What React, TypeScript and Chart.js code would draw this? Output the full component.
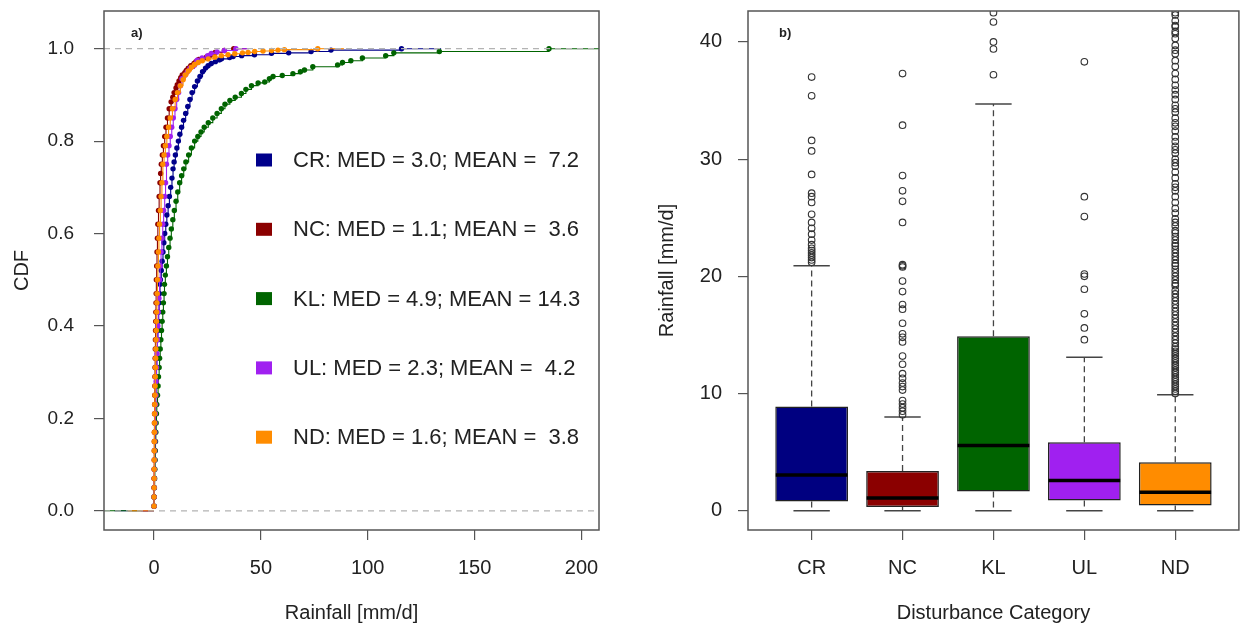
import React, { useEffect, useRef } from "react";
import { Chart, registerables } from "chart.js";

Chart.register(...registerables);

const FONT = "'Liberation Sans', Arial, Helvetica, sans-serif";
const TEXT = "#222222";
const AXIS = "#555555";

// ---------- Panel a) : empirical CDFs ----------
const seriesNames = ["CR", "NC", "KL", "UL", "ND"];
const seriesColors = ["#00008B", "#8B0000", "#006400", "#A020F0", "#FF8C00"];
const legendLabels = [
  "CR: MED = 3.0; MEAN =  7.2",
  "NC: MED = 1.1; MEAN =  3.6",
  "KL: MED = 4.9; MEAN = 14.3",
  "UL: MED = 2.3; MEAN =  4.2",
  "ND: MED = 1.6; MEAN =  3.8",
];
const cdfXTicks = [0, 50, 100, 150, 200];
const cdfYTicks = [0, 0.2, 0.4, 0.6, 0.8, 1.0];
const cdfYTickLabels = ["0.0", "0.2", "0.4", "0.6", "0.8", "1.0"];
const cdfRefLines = [0, 1];

// [rainfall mm/d, cumulative probability]
const crCdf: number[][] = [
  [0.0, 0.01], [0.05, 0.03], [0.1, 0.05], [0.15, 0.07], [0.2, 0.09], [0.3, 0.11], [0.35, 0.13],
  [0.4, 0.15], [0.5, 0.17], [0.55, 0.19], [0.6, 0.21], [0.7, 0.23], [0.8, 0.25], [0.9, 0.27],
  [1.0, 0.29], [1.15, 0.31], [1.3, 0.33], [1.45, 0.35], [1.6, 0.37], [1.8, 0.39], [2.0, 0.41],
  [2.2, 0.43], [2.4, 0.45], [2.6, 0.47], [2.8, 0.49], [3.0, 0.5], [3.4, 0.52], [3.8, 0.54],
  [4.2, 0.56], [4.6, 0.58], [5.0, 0.6], [5.5, 0.62], [6.0, 0.64], [6.6, 0.66], [7.2, 0.68],
  [7.8, 0.7], [8.4, 0.72], [8.9, 0.74], [9.4, 0.755], [10.0, 0.77], [10.7, 0.785], [11.4, 0.8],
  [12.1, 0.815], [12.9, 0.83], [13.8, 0.845], [14.8, 0.86], [15.8, 0.875], [16.8, 0.89],
  [17.8, 0.905], [19.0, 0.918], [20.3, 0.93], [21.5, 0.94], [22.7, 0.95], [24.1, 0.958],
  [25.3, 0.963], [26.8, 0.968], [28.7, 0.972], [30.7, 0.976], [31.6, 0.978], [35.4, 0.981],
  [37.0, 0.983], [41.0, 0.985], [47.0, 0.987], [55.0, 0.99], [63.0, 0.991], [73.5, 0.994],
  [82.8, 0.997], [115.8, 1.0],
];
const ncCdf: number[][] = [
  [0.0, 0.01], [0.02, 0.03], [0.04, 0.05], [0.06, 0.07], [0.08, 0.09], [0.1, 0.11], [0.12, 0.13],
  [0.15, 0.15], [0.18, 0.17], [0.21, 0.19], [0.24, 0.21], [0.28, 0.23], [0.33, 0.25], [0.38, 0.27],
  [0.43, 0.29], [0.48, 0.31], [0.54, 0.33], [0.6, 0.35], [0.66, 0.37], [0.72, 0.39], [0.79, 0.41],
  [0.86, 0.43], [0.93, 0.45], [1.0, 0.47], [1.1, 0.5], [1.25, 0.53], [1.4, 0.56], [1.6, 0.59],
  [1.8, 0.62], [2.1, 0.65], [2.4, 0.68], [2.8, 0.71], [3.1, 0.73], [3.4, 0.75], [3.9, 0.77],
  [4.4, 0.79], [5.0, 0.81], [5.6, 0.83], [6.3, 0.85], [7.1, 0.87], [8.0, 0.885], [8.8, 0.895],
  [9.4, 0.905], [10.3, 0.915], [10.9, 0.922], [11.7, 0.93], [12.5, 0.937], [13.2, 0.943],
  [14.4, 0.948], [15.1, 0.953], [16.0, 0.958], [17.2, 0.963], [18.7, 0.968], [19.6, 0.972],
  [20.9, 0.977], [24.6, 0.982], [26.4, 0.986], [27.3, 0.989], [28.6, 0.992], [32.9, 0.996],
  [37.3, 1.0],
];
const klCdf: number[][] = [
  [0.0, 0.01], [0.1, 0.03], [0.2, 0.05], [0.3, 0.07], [0.4, 0.09], [0.5, 0.11], [0.6, 0.13],
  [0.7, 0.15], [0.85, 0.17], [1.0, 0.19], [1.15, 0.21], [1.3, 0.23], [1.65, 0.25], [1.9, 0.27],
  [2.1, 0.29], [2.4, 0.31], [2.6, 0.33], [2.9, 0.35], [3.2, 0.37], [3.5, 0.39], [3.8, 0.41],
  [4.1, 0.43], [4.4, 0.45], [4.7, 0.47], [4.9, 0.49], [5.3, 0.51], [5.8, 0.53], [6.3, 0.55],
  [6.9, 0.57], [7.5, 0.59], [8.1, 0.61], [8.8, 0.63], [9.5, 0.65], [10.3, 0.67], [11.1, 0.69],
  [12.0, 0.71], [12.9, 0.725], [13.9, 0.74], [14.9, 0.755], [16.2, 0.77], [17.5, 0.785],
  [19.0, 0.8], [20.5, 0.81], [22.0, 0.82], [23.5, 0.83], [25.4, 0.84], [27.5, 0.85], [29.5, 0.86],
  [31.5, 0.87], [33.2, 0.88], [35.5, 0.888], [38.0, 0.895], [40.9, 0.903], [43.0, 0.912],
  [45.6, 0.92], [48.7, 0.926], [51.8, 0.928], [54.0, 0.935], [55.7, 0.94], [60.0, 0.942],
  [65.0, 0.946], [68.5, 0.95], [70.4, 0.954], [74.3, 0.961], [85.9, 0.965], [88.2, 0.97],
  [92.1, 0.974], [97.5, 0.98], [108.4, 0.985], [112.2, 0.991], [133.5, 0.994], [184.8, 1.0],
];
const ulCdf: number[][] = [
  [0.0, 0.01], [0.05, 0.03], [0.1, 0.05], [0.15, 0.07], [0.2, 0.09], [0.25, 0.11], [0.3, 0.13],
  [0.4, 0.15], [0.45, 0.17], [0.5, 0.19], [0.6, 0.21], [0.7, 0.23], [0.88, 0.25], [1.0, 0.28],
  [1.2, 0.31], [1.4, 0.34], [1.6, 0.37], [1.8, 0.4], [2.0, 0.43], [2.3, 0.46], [2.58, 0.5],
  [2.9, 0.53], [3.3, 0.56], [3.7, 0.59], [4.1, 0.62], [4.5, 0.65], [5.0, 0.68], [5.4, 0.71],
  [5.84, 0.75], [6.4, 0.77], [7.0, 0.79], [7.6, 0.81], [8.3, 0.83], [9.0, 0.85], [9.8, 0.87],
  [10.6, 0.89], [11.5, 0.905], [12.3, 0.92], [13.1, 0.935], [14.6, 0.943], [15.6, 0.95],
  [16.8, 0.957], [18.9, 0.964], [20.0, 0.97], [20.2, 0.975], [22.5, 0.98], [25.1, 0.985],
  [26.8, 0.99], [29.5, 0.993], [33.0, 0.996], [38.3, 1.0],
];
const ndCdf: number[][] = [
  [0.0, 0.01], [0.02, 0.03], [0.04, 0.05], [0.06, 0.07], [0.08, 0.09], [0.1, 0.11], [0.13, 0.13],
  [0.16, 0.15], [0.2, 0.17], [0.24, 0.19], [0.29, 0.21], [0.34, 0.23], [0.45, 0.25], [0.52, 0.27],
  [0.6, 0.29], [0.68, 0.31], [0.77, 0.33], [0.86, 0.35], [0.95, 0.37], [1.05, 0.39], [1.15, 0.41],
  [1.25, 0.43], [1.36, 0.45], [1.47, 0.47], [1.59, 0.5], [1.8, 0.53], [2.05, 0.56], [2.3, 0.59],
  [2.6, 0.62], [2.95, 0.65], [3.3, 0.68], [3.7, 0.71], [4.14, 0.75], [4.7, 0.77], [5.3, 0.79],
  [6.0, 0.81], [6.8, 0.83], [7.6, 0.85], [8.6, 0.87], [9.9, 0.89], [11.0, 0.905], [12.3, 0.92],
  [13.6, 0.933], [14.6, 0.943], [16.0, 0.952], [17.5, 0.96], [19.0, 0.966], [20.7, 0.97],
  [22.6, 0.974], [25.4, 0.978], [28.5, 0.982], [31.5, 0.985], [34.6, 0.987], [37.8, 0.989],
  [41.4, 0.991], [44.0, 0.992], [47.1, 0.994], [51.0, 0.995], [55.0, 0.996], [58.0, 0.997],
  [61.0, 0.998], [76.6, 1.0],
];

// ---------- Panel b) : box plots ----------
const boxCategories = ["CR", "NC", "KL", "UL", "ND"];
const boxColors = ["#000080", "#8B0000", "#006400", "#A020F0", "#FF8C00"];
const boxLower = [0, 0, 0, 0, 0];
const boxQ1 = [0.8, 0.32, 1.65, 0.88, 0.45];
const boxMedian = [3.05, 1.1, 5.56, 2.58, 1.59];
const boxQ3 = [8.9, 3.4, 14.9, 5.84, 4.14];
const boxUpper = [20.9, 8.0, 34.7, 13.1, 9.9];
const rainTicks = [0, 10, 20, 30, 40];

const crOutliers = [37.0, 35.4, 31.6, 30.7, 28.7, 27.1, 26.8, 26.3, 25.3, 24.6, 24.1, 23.6, 23.1, 22.7, 22.4, 22.2, 22.0, 21.8, 21.6, 21.4, 21.2];
const ncOutliers = [37.3, 32.9, 28.6, 27.3, 26.4, 24.6, 21.0, 20.9, 20.8, 19.6, 18.7, 17.6, 17.2, 16.0, 15.1, 14.8, 14.4, 13.2, 12.5, 11.7, 11.3, 10.9, 10.6, 10.3, 9.4, 9.1, 8.8, 8.5, 8.2];
const klOutliers = [42.5, 41.7, 40.0, 39.4, 37.2];
const ulOutliers = [38.3, 26.8, 25.1, 20.2, 20.0, 18.9, 16.8, 15.6, 14.6];
const ndOutliers = [
  42.5, 42.3, 41.8, 41.4, 41.3, 40.9, 40.7, 40.3, 39.7, 39.3, 39.0, 38.4, 37.9, 37.3, 36.8, 36.3, 35.9,
  35.5, 35.1, 34.6, 34.3, 34.0, 33.5, 33.1, 32.8, 32.4, 31.9, 31.5, 31.1, 30.8, 30.5, 30.0, 29.7,
  29.4, 28.9, 28.4, 27.9, 27.6, 27.3, 26.8, 26.3, 25.8, 25.4, 24.9, 24.6, 24.3, 23.9, 23.7, 23.4,
  23.1, 22.8, 22.6, 22.3, 22.0, 21.7, 21.4, 21.1, 20.9, 20.6, 20.3, 20.0, 19.7, 19.4, 19.2, 18.8,
  18.5, 18.2, 17.9, 17.6, 17.3, 17.0, 16.7, 16.4, 16.1, 15.8, 15.5, 15.2, 14.9, 14.6, 14.3, 14.0,
  13.8, 13.6, 13.4, 13.2, 13.0, 12.8, 12.6, 12.4, 12.2, 12.0, 11.8, 11.6, 11.4, 11.2, 11.0, 10.8,
  10.6, 10.4, 10.2, 10.0,
];
const boxOutliers = [crOutliers, ncOutliers, klOutliers, ulOutliers, ndOutliers];

const tickFont = { family: FONT, size: 20 };
const titleFont = { family: FONT, size: 20 };

function CdfChart() {
  const ref = useRef<HTMLCanvasElement>(null);
  useEffect(() => {
    const canvas = ref.current;
    if (!canvas) return;
    const series = [crCdf, ncCdf, klCdf, ulCdf, ndCdf];
    const datasets: any[] = [];
    series.forEach((pts, i) => {
      const color = seriesColors[i];
      const first = pts[0][0];
      const last = pts[pts.length - 1][0];
      const ext = 2 * 0.08 * (last - first);
      const ord = 20 - 3 * i;
      datasets.push({
        type: "line",
        label: seriesNames[i],
        data: pts.map(([x, y]) => ({ x, y })),
        stepped: true,
        borderColor: color,
        borderWidth: 1.1,
        pointRadius: 2.7,
        pointHoverRadius: 2.7,
        pointBackgroundColor: color,
        pointBorderWidth: 0,
        order: ord,
        clip: 0,
      });
      datasets.push({
        type: "line",
        data: [{ x: first - ext, y: 0 }, { x: first, y: 0 }],
        borderColor: color,
        borderWidth: 1.1,
        pointRadius: 0,
        order: ord + 1,
        clip: 0,
      });
      datasets.push({
        type: "line",
        data: [{ x: last, y: 1 }, { x: last + ext, y: 1 }],
        borderColor: color,
        borderWidth: 1.1,
        pointRadius: 0,
        order: ord + 1,
        clip: 0,
      });
    });

    const decor = {
      id: "cdfDecor",
      afterDatasetsDraw(chart: any) {
        const { ctx, chartArea: a, scales } = chart;
        const y = scales.y;
        ctx.save();
        ctx.beginPath();
        ctx.rect(a.left, a.top, a.right - a.left, a.bottom - a.top);
        ctx.clip();
        ctx.strokeStyle = "#b3b3b3";
        ctx.lineWidth = 1.2;
        ctx.setLineDash([6, 5]);
        cdfRefLines.forEach((v) => {
          const py = y.getPixelForValue(v);
          ctx.beginPath();
          ctx.moveTo(a.left, py);
          ctx.lineTo(a.right, py);
          ctx.stroke();
        });
        ctx.restore();

        ctx.save();
        ctx.strokeStyle = AXIS;
        ctx.lineWidth = 1.5;
        ctx.strokeRect(a.left, a.top, a.right - a.left, a.bottom - a.top);
        ctx.fillStyle = TEXT;
        ctx.textBaseline = "middle";
        ctx.textAlign = "left";
        ctx.font = `bold 13px ${FONT}`;
        ctx.fillText("a)", a.left + 27, a.top + 22);
        ctx.font = `22px ${FONT}`;
        legendLabels.forEach((t, i) => {
          const cy = a.top + 149 + i * 69.3;
          ctx.fillStyle = seriesColors[i];
          ctx.fillRect(a.left + 152, cy - 6.5, 16, 13);
          ctx.fillStyle = TEXT;
          ctx.fillText(t, a.left + 189, cy + 1);
        });
        ctx.restore();
      },
    };

    const chart = new Chart(canvas, {
      type: "line",
      data: { datasets },
      plugins: [decor],
      options: {
        animation: false,
        responsive: false,
        devicePixelRatio: 1,
        events: [],
        layout: { padding: { left: 0, right: 23, top: 11, bottom: 0 } },
        plugins: { legend: { display: false }, tooltip: { enabled: false } },
        scales: {
          x: {
            type: "linear",
            min: -23.4,
            max: 208.2,
            afterBuildTicks: (s: any) => {
              s.ticks = cdfXTicks.map((v) => ({ value: v }));
            },
            afterFit: (s: any) => {
              s.height = 99;
              s.paddingLeft = 0;
              s.paddingRight = 0;
            },
            ticks: {
              callback: (v: any, i: number) => String(cdfXTicks[i]),
              font: tickFont,
              color: TEXT,
              padding: 16,
              maxRotation: 0,
              autoSkip: false,
            },
            grid: { drawOnChartArea: false, drawTicks: true, tickLength: 10, color: AXIS, lineWidth: 1.2 },
            border: { display: false },
            title: { display: true, text: "Rainfall [mm/d]", font: titleFont, color: TEXT, padding: { top: 0, bottom: 4 } },
          },
          y: {
            type: "linear",
            min: -0.0416,
            max: 1.0816,
            afterBuildTicks: (s: any) => {
              s.ticks = cdfYTicks.map((v) => ({ value: v }));
            },
            afterFit: (s: any) => {
              s.width = 104;
              s.paddingTop = 0;
              s.paddingBottom = 0;
            },
            ticks: {
              callback: (v: any, i: number) => cdfYTickLabels[i],
              font: { family: FONT, size: 19 },
              color: TEXT,
              padding: 20,
              autoSkip: false,
            },
            grid: { drawOnChartArea: false, drawTicks: true, tickLength: 10, color: AXIS, lineWidth: 1.2 },
            border: { display: false },
            title: { display: true, text: "CDF", font: titleFont, color: TEXT, padding: { top: 10, bottom: 0 } },
          },
        },
      } as any,
    });
    return () => chart.destroy();
  }, []);
  return <canvas ref={ref} width={622} height={629} style={{ position: "absolute", left: 0, top: 0 }} />;
}

function BoxChart() {
  const ref = useRef<HTMLCanvasElement>(null);
  useEffect(() => {
    const canvas = ref.current;
    if (!canvas) return;
    const spacing = (c: any) => {
      const s = c.chart.scales.x;
      return Math.abs(s.getPixelForValue(2) - s.getPixelForValue(1));
    };
    const whiskerData: any[] = [];
    boxCategories.forEach((_, i) => {
      whiskerData.push({ x: i + 1, y: boxQ3[i] }, { x: i + 1, y: boxUpper[i] }, { x: i + 1, y: null });
      whiskerData.push({ x: i + 1, y: boxQ1[i] }, { x: i + 1, y: boxLower[i] }, { x: i + 1, y: null });
    });
    const capData: any[] = [];
    boxCategories.forEach((_, i) => {
      capData.push({ x: i + 1, y: boxLower[i] }, { x: i + 1, y: boxUpper[i] });
    });
    const datasets: any[] = [
      {
        type: "line",
        data: whiskerData,
        borderColor: "#444444",
        borderWidth: 1.3,
        borderDash: [6, 4],
        pointRadius: 0,
        spanGaps: false,
        order: 5,
      },
      {
        type: "scatter",
        data: capData,
        pointStyle: "line",
        pointRadius: (c: any) => 0.2 * spacing(c),
        pointBorderColor: "#444444",
        pointBorderWidth: 1.5,
        order: 4,
      },
      {
        type: "bar",
        data: boxCategories.map((_, i) => ({ x: i + 1, y: [boxQ1[i], boxQ3[i]] })),
        backgroundColor: boxColors,
        borderColor: "#222222",
        borderWidth: 1.5,
        borderSkipped: false,
        barPercentage: 1,
        categoryPercentage: 0.8,
        grouped: false,
        order: 3,
      },
      {
        type: "scatter",
        data: boxCategories.map((_, i) => ({ x: i + 1, y: boxMedian[i] })),
        pointStyle: "line",
        pointRadius: (c: any) => 0.4 * spacing(c) - 0.5,
        pointBorderColor: "#000000",
        pointBorderWidth: 3.5,
        order: 2,
      },
      {
        type: "scatter",
        data: boxOutliers.flatMap((vals, i) => vals.map((v) => ({ x: i + 1, y: v }))),
        pointStyle: "circle",
        pointRadius: 3.3,
        pointBorderWidth: 1.1,
        pointBorderColor: "#333333",
        pointBackgroundColor: "rgba(0,0,0,0)",
        clip: 0,
        order: 1,
      },
    ];

    const decor = {
      id: "boxDecor",
      afterDatasetsDraw(chart: any) {
        const { ctx, chartArea: a } = chart;
        ctx.save();
        ctx.strokeStyle = AXIS;
        ctx.lineWidth = 1.5;
        ctx.strokeRect(a.left, a.top, a.right - a.left, a.bottom - a.top);
        ctx.fillStyle = TEXT;
        ctx.textBaseline = "middle";
        ctx.textAlign = "left";
        ctx.font = `bold 13px ${FONT}`;
        ctx.fillText("b)", a.left + 31, a.top + 22);
        ctx.restore();
      },
    };

    const chart = new Chart(canvas, {
      type: "bar",
      data: { datasets },
      plugins: [decor],
      options: {
        animation: false,
        responsive: false,
        devicePixelRatio: 1,
        events: [],
        layout: { padding: { left: 0, right: 2, top: 11, bottom: 0 } },
        plugins: { legend: { display: false }, tooltip: { enabled: false } },
        scales: {
          x: {
            type: "linear",
            min: 0.3,
            max: 5.7,
            offset: false,
            afterBuildTicks: (s: any) => {
              s.ticks = boxCategories.map((_, i) => ({ value: i + 1 }));
            },
            afterFit: (s: any) => {
              s.height = 99;
              s.paddingLeft = 0;
              s.paddingRight = 0;
            },
            ticks: {
              callback: (v: any, i: number) => boxCategories[i],
              font: tickFont,
              color: TEXT,
              padding: 16,
              maxRotation: 0,
              autoSkip: false,
            },
            grid: { offset: false, drawOnChartArea: false, drawTicks: true, tickLength: 10, color: AXIS, lineWidth: 1.2 },
            border: { display: false },
            title: { display: true, text: "Disturbance Category", font: titleFont, color: TEXT, padding: { top: 0, bottom: 4 } },
          },
          y: {
            type: "linear",
            min: -1.64,
            max: 42.64,
            beginAtZero: false,
            afterBuildTicks: (s: any) => {
              s.ticks = rainTicks.map((v) => ({ value: v }));
            },
            afterFit: (s: any) => {
              s.width = 126;
              s.paddingTop = 0;
              s.paddingBottom = 0;
            },
            ticks: {
              callback: (v: any, i: number) => String(rainTicks[i]),
              font: tickFont,
              color: TEXT,
              padding: 16,
              autoSkip: false,
            },
            grid: { drawOnChartArea: false, drawTicks: true, tickLength: 10, color: AXIS, lineWidth: 1.2 },
            border: { display: false },
            title: { display: true, text: "Rainfall [mm/d]", font: titleFont, color: TEXT, padding: { top: 33, bottom: 0 } },
          },
        },
      } as any,
    });
    return () => chart.destroy();
  }, []);
  return <canvas ref={ref} width={622} height={629} style={{ position: "absolute", left: 622, top: 0 }} />;
}

export default function App() {
  return (
    <div style={{ position: "absolute", left: 0, top: 0, width: 1244, height: 629, background: "#ffffff", overflow: "hidden" }}>
      <CdfChart />
      <BoxChart />
    </div>
  );
}
